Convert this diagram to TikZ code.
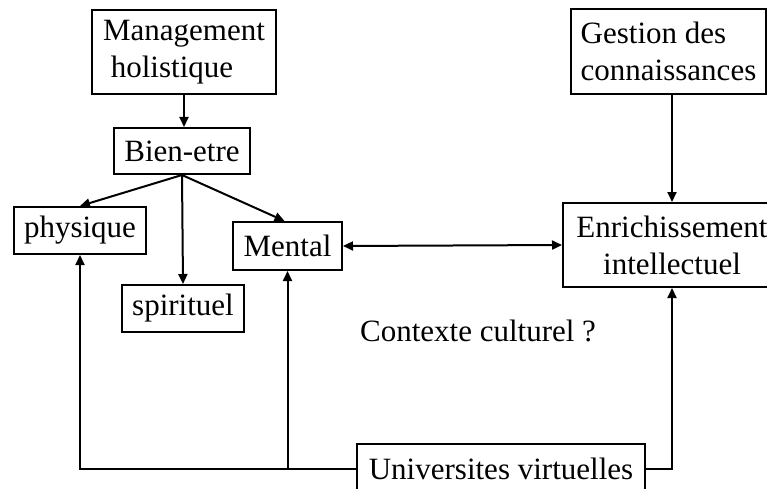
\documentclass[tikz,border=0pt]{standalone}
\usepackage{fontspec}
\setmainfont{Liberation Serif}
\usetikzlibrary{arrows.meta}

\begin{document}
\begin{tikzpicture}[x=1pt,y=-1pt,
    box/.style={draw,line width=2pt,inner sep=0pt,
      font=\fontsize{31}{37}\selectfont},
    link/.style={line width=2pt,-{Triangle[length=10pt,width=9pt]}},
    twoway/.style={line width=2pt,
      {Triangle[length=10pt,width=9pt]}-{Triangle[length=10pt,width=9pt]}}]
    \useasboundingbox (0,0) rectangle (767,489);
    \clip (0,0) rectangle (767,489);
    % left branch
    \node[box,minimum width=184pt,minimum height=84pt,align=center]
      (mgmt) at (184,52) {Management\\holistique\hspace*{24pt}};
    \node[box,minimum width=136pt,minimum height=46pt] (bien) at (182,151) {Bien-etre};
    \node[box,minimum width=132pt,minimum height=47pt] (phys) at (80,230.5) {physique};
    \node[box,minimum width=109pt,minimum height=48pt] (mental) at (287.5,246) {Mental};
    \node[box,minimum width=122pt,minimum height=47pt] (spir) at (183,308.5) {spirituel};
    % right branch
    \node[box,minimum width=195pt,minimum height=85pt,align=left]
      (gestion) at (668.5,51.5) {Gestion des\\connaissances};
    \node[box,minimum width=218pt,minimum height=84pt,align=center]
      (enrich) at (672,245) {Enrichissement\\intellectuel};
    \node[box,minimum width=288pt,minimum height=50pt] (univ) at (501,469) {Universites virtuelles};
    \node[font=\fontsize{31}{37}\selectfont] (ctx) at (478,331) {Contexte culturel ?};
    % connectors
    \draw[link] (mgmt.south) -- (mgmt.south |- bien.north);
    \draw[link] (bien.south) -- (phys.north);
    \draw[link] (bien.south) -- (spir.north);
    \draw[link] (bien.south) -- ([xshift=-3pt]mental.north);
    \draw[link] (gestion.south -| enrich.north) -- (enrich.north);
    \draw[twoway] (mental.east) -- (enrich.west);
    \draw[link] (univ.west) -| (phys.south);
    \draw[link] (univ.west -| mental.south) -- (mental.south);
    \draw[link] (univ.east) -| (enrich.south);
  \end{tikzpicture}
\end{document}
